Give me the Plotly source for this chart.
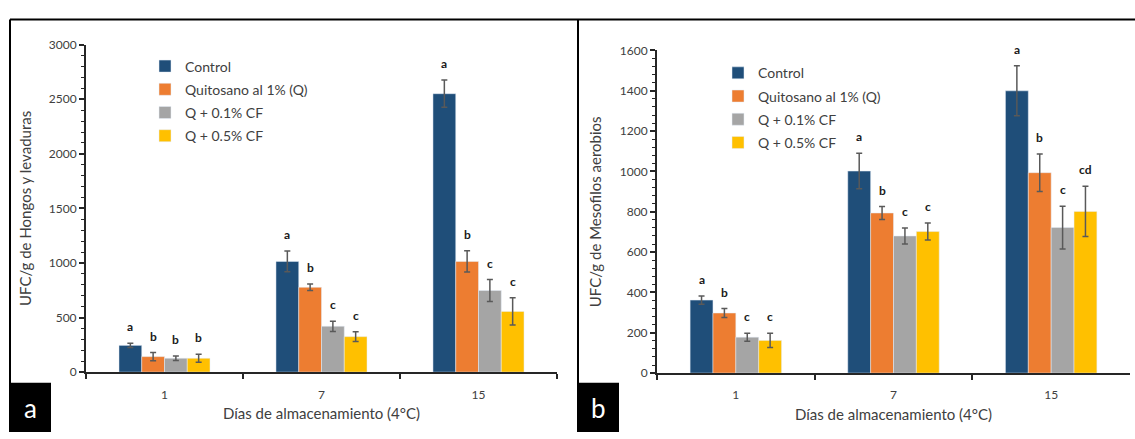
import plotly.graph_objects as go

days = ["1", "7", "15"]
series_names = ["Control", "Quitosano al 1% (Q)", "Q + 0.1% CF", "Q + 0.5% CF"]
colors = ["#1F4E79", "#ED7D31", "#A5A5A5", "#FFC000"]

# Panel a: hongos y levaduras
a_values = [
    [245, 1014, 2551],
    [142, 777, 1014],
    [127, 420, 748],
    [127, 325, 556],
]
a_errors = [
    [20, 95, 125],
    [37, 30, 97],
    [20, 47, 100],
    [37, 44, 125],
]
a_letters = [
    ["a", "a", "a"],
    ["b", "b", "b"],
    ["b", "c", "c"],
    ["b", "c", "c"],
]

# Panel b: mesófilos aerobios
b_values = [
    [362, 1002, 1400],
    [298, 794, 994],
    [178, 680, 722],
    [162, 702, 802],
]
b_errors = [
    [20, 88, 124],
    [22, 32, 93],
    [20, 40, 106],
    [35, 42, 125],
]
b_letters = [
    ["a", "a", "a"],
    ["b", "b", "b"],
    ["c", "c", "c"],
    ["c", "c", "cd"],
]

W, H = 1135, 439
FONT = "Lato"
BARGAP = 0.42

def px(x):
    return x / W

def py(y):
    return 1 - y / H

fig = go.Figure()

for j, name in enumerate(series_names):
    fig.add_trace(go.Bar(
        x=days, y=a_values[j], name=name, marker_color=colors[j],
        error_y=dict(type="data", array=a_errors[j], color="#595959", thickness=1.5, width=3),
        xaxis="x", yaxis="y", legend="legend", legendgroup="a%d" % j,
    ))
for j, name in enumerate(series_names):
    fig.add_trace(go.Bar(
        x=days, y=b_values[j], name=name, marker_color=colors[j],
        error_y=dict(type="data", array=b_errors[j], color="#595959", thickness=1.5, width=3),
        xaxis="x2", yaxis="y2", legend="legend2", legendgroup="b%d" % j,
    ))

annotations = []
barw = (1 - BARGAP) / 4
for vals, errs, lets, xr, yr in [(a_values, a_errors, a_letters, "x", "y"),
                                  (b_values, b_errors, b_letters, "x2", "y2")]:
    for j in range(4):
        for i in range(3):
            annotations.append(dict(
                x=i + (j - 1.5) * barw, y=vals[j][i] + errs[j][i],
                xref=xr, yref=yr, text=lets[j][i], showarrow=False,
                yanchor="bottom", yshift=7,
                font=dict(family=FONT, size=12, color="#1a1a1a", weight="bold"),
            ))

# panel tags
for label, x0 in [("a", 10), ("b", 578)]:
    annotations.append(dict(
        x=px(x0 + 20), y=py(414), xref="paper", yref="paper", text=label,
        showarrow=False, font=dict(family=FONT, size=26, color="white"),
        xanchor="center", yanchor="middle",
    ))

shapes = [
    dict(type="line", xref="paper", yref="paper", x0=px(10), x1=1, y0=py(12), y1=py(12),
         line=dict(color="black", width=2)),
    dict(type="line", xref="paper", yref="paper", x0=px(10), x1=px(10), y0=py(12), y1=0,
         line=dict(color="black", width=2)),
    dict(type="line", xref="paper", yref="paper", x0=px(578), x1=px(578), y0=py(12), y1=0,
         line=dict(color="black", width=2)),
    dict(type="rect", xref="paper", yref="paper", x0=px(10), x1=px(51), y0=0, y1=py(388),
         fillcolor="black", line=dict(width=0)),
    dict(type="rect", xref="paper", yref="paper", x0=px(578), x1=px(619), y0=0, y1=py(388),
         fillcolor="black", line=dict(width=0)),
]

tickfont = dict(family=FONT, size=12, color="#404040")
titlefont = dict(family=FONT, size=15, color="#404040")

def yaxis(domain, anchor, rng, dtick, minor_dtick, title, standoff):
    return dict(
        domain=domain, anchor=anchor, range=rng, dtick=dtick, showgrid=False, zeroline=False,
        showline=True, linecolor="#262626", linewidth=2, ticks="outside", ticklen=5,
        tickcolor="#262626", tickwidth=1.5, tickfont=tickfont,
        minor=dict(dtick=minor_dtick, ticks="outside", ticklen=3, tickcolor="#262626", tickwidth=1),
        title=dict(text=title, font=titlefont, standoff=standoff),
    )

def xaxis(domain, anchor):
    return dict(
        domain=domain, anchor=anchor, type="category", showgrid=False, showline=True,
        linecolor="#262626", linewidth=2, ticks="outside", tickson="boundaries", ticklen=5,
        tickcolor="#262626", tickwidth=1.5, tickfont=tickfont, ticklabelstandoff=10,
        title=dict(text="Días de almacenamiento (4°C)", font=titlefont, standoff=8),
    )

legend_common = dict(
    font=dict(family=FONT, size=14, color="#404040"), bgcolor="rgba(0,0,0,0)",
    traceorder="grouped", tracegroupgap=2, itemwidth=30, xanchor="left", yanchor="top",
)

fig.update_layout(
    width=W, height=H, margin=dict(l=0, r=0, t=0, b=0),
    paper_bgcolor="white", plot_bgcolor="white",
    barmode="group", bargap=BARGAP, bargroupgap=0,
    font=dict(family=FONT),
    xaxis=xaxis([px(86), px(557)], "y"),
    yaxis=yaxis([py(377), py(38)], "x", [0, 3000], 500, 100, "UFC/g de Hongos y levaduras", 14),
    xaxis2=xaxis([px(657), px(1130)], "y2"),
    yaxis2=yaxis([py(378), py(44)], "x2", [0, 1600], 200, 40, "UFC/g de Mesofilos aerobios", 14),
    legend=dict(x=px(145), y=py(44), **legend_common),
    legend2=dict(x=px(718), y=py(51), **legend_common),
    annotations=annotations, shapes=shapes, showlegend=True,
)

fig.write_html("out.html", config={"displayModeBar": False},
               post_script="document.body.style.margin='0px';document.body.style.overflow='hidden';")
